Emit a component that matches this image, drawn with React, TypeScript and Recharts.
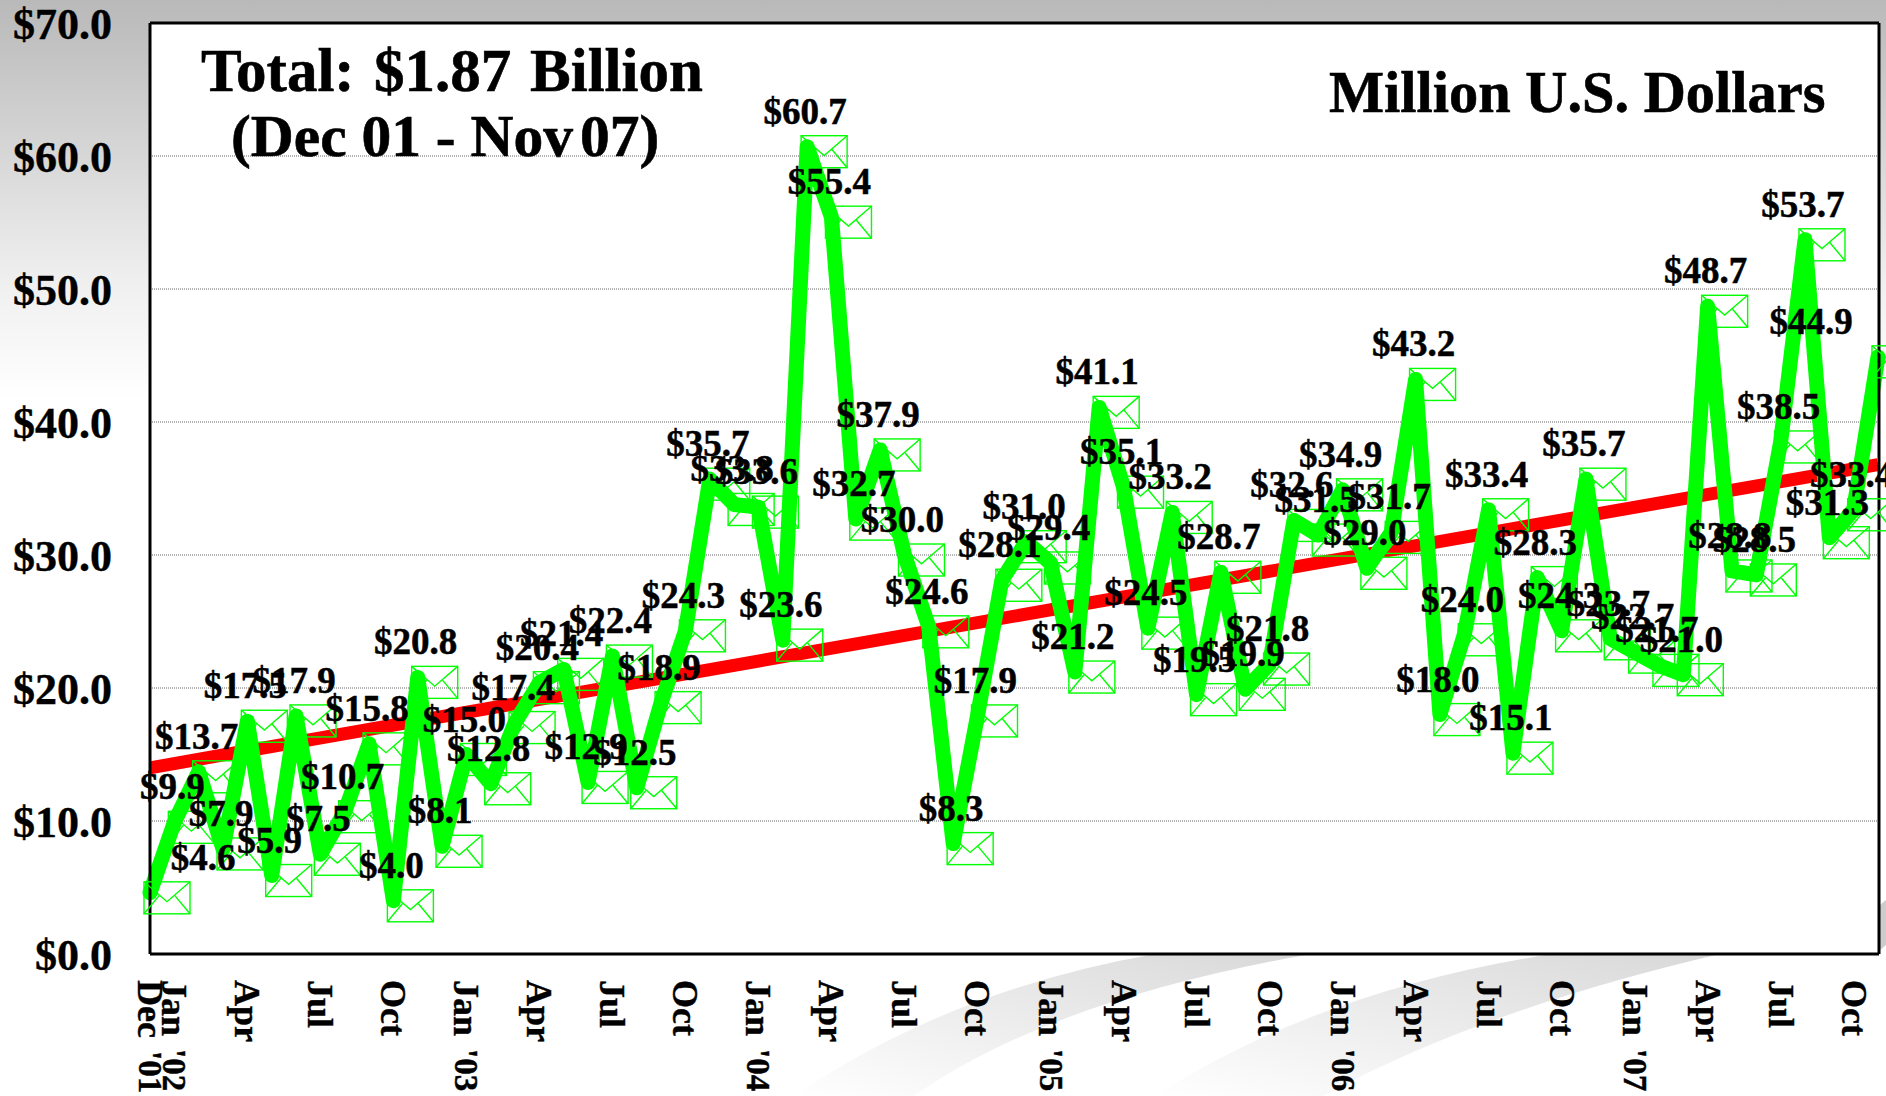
import React from 'react';
import { LineChart, Line, XAxis, YAxis, CartesianGrid, ReferenceLine, LabelList } from 'recharts';

const months = [
  "Dec '01", "Jan '02", "Feb '02", "Mar '02", "Apr '02", "May '02", "Jun '02", "Jul '02", "Aug '02", "Sep '02", "Oct '02", "Nov '02",
  "Dec '02", "Jan '03", "Feb '03", "Mar '03", "Apr '03", "May '03", "Jun '03", "Jul '03", "Aug '03", "Sep '03", "Oct '03", "Nov '03",
  "Dec '03", "Jan '04", "Feb '04", "Mar '04", "Apr '04", "May '04", "Jun '04", "Jul '04", "Aug '04", "Sep '04", "Oct '04", "Nov '04",
  "Dec '04", "Jan '05", "Feb '05", "Mar '05", "Apr '05", "May '05", "Jun '05", "Jul '05", "Aug '05", "Sep '05", "Oct '05", "Nov '05",
  "Dec '05", "Jan '06", "Feb '06", "Mar '06", "Apr '06", "May '06", "Jun '06", "Jul '06", "Aug '06", "Sep '06", "Oct '06", "Nov '06",
  "Dec '06", "Jan '07", "Feb '07", "Mar '07", "Apr '07", "May '07", "Jun '07", "Jul '07", "Aug '07", "Sep '07", "Oct '07", "Nov '07",
];

const monthly = [
  4.6, 9.9, 13.7, 7.9, 17.5, 5.9, 17.9, 7.5, 10.7, 15.8, 4.0, 20.8,
  8.1, 15.0, 12.8, 17.4, 20.4, 21.4, 12.9, 22.4, 12.5, 18.9, 24.3, 35.7,
  33.8, 33.6, 23.6, 60.7, 55.4, 32.7, 37.9, 30.0, 24.6, 8.3, 17.9, 28.1,
  31.0, 29.4, 21.2, 41.1, 35.1, 24.5, 33.2, 19.5, 28.7, 19.9, 21.8, 32.6,
  31.5, 34.9, 29.0, 31.7, 43.2, 18.0, 24.0, 33.4, 15.1, 28.3, 24.3, 35.7,
  23.7, 22.7, 21.7, 21.0, 48.7, 28.8, 28.5, 38.5, 53.7, 31.3, 33.4, 44.9,
];

const trendStart = 14.0;
const trendEnd = 36.8;

const yTicks = [0, 10, 20, 30, 40, 50, 60, 70];

// shown on the axis as month + year, the rest as month only
const yearTicks = ["Dec '01", "Jan '02", "Jan '03", "Jan '04", "Jan '05", "Jan '06", "Jan '07"];
const monthTicks = [
  "Apr '02", "Jul '02", "Oct '02", "Apr '03", "Jul '03", "Oct '03", "Apr '04", "Jul '04", "Oct '04",
  "Apr '05", "Jul '05", "Oct '05", "Apr '06", "Jul '06", "Oct '06", "Apr '07", "Jul '07", "Oct '07",
];

const chartData = months.map((month, i) => ({
  month,
  value: monthly[i],
  trend: i === 0 ? trendStart : i === months.length - 1 ? trendEnd : null,
}));

const SERIF = '"Liberation Serif", "Times New Roman", serif';

const EnvelopeDot = (props: any) => {
  const { cx, cy, index } = props;
  const x = cx - 6;
  const y = cy - 11;
  const w = 46;
  const h = 32;
  return (
    <g key={`env-${index}`} fill="none" stroke="#00FF00" strokeWidth={1.4}>
      <rect x={x} y={y} width={w} height={h} />
      <polyline points={`${x},${y} ${x + w / 2},${y + h * 0.62} ${x + w},${y}`} />
      <line x1={x} y1={y + h} x2={x + w * 0.33} y2={y + h * 0.43} />
      <line x1={x + w} y1={y + h} x2={x + w * 0.67} y2={y + h * 0.43} />
    </g>
  );
};

const ValueLabel = (props: any) => {
  const { x, y, value, index } = props;
  // first and last labels were moved sideways in the original
  let dx = -2;
  if (index === 0) dx = 53;
  if (index === monthly.length - 1) dx = -67;
  return (
    <text
      x={x + dx}
      y={y - 23}
      textAnchor="middle"
      fontFamily={SERIF}
      fontWeight="bold"
      fontSize={37}
      fill="#000"
      stroke="#000"
      strokeWidth={0.5}
    >
      {`$${Number(value).toFixed(1)}`}
    </text>
  );
};

const MonthTick = (props: any) => {
  const { x, y, payload } = props;
  const [mon, yr] = String(payload.value).split(' ');
  const showYear = yearTicks.includes(payload.value);
  return (
    <text
      x={x}
      y={y}
      transform={`rotate(90 ${x} ${y})`}
      textAnchor="start"
      dominantBaseline="central"
      fontFamily={SERIF}
      fontWeight="bold"
      fontSize={36}
      fill="#000"
      stroke="#000"
      strokeWidth={0.4}
    >
      <tspan>{mon}</tspan>
      {showYear && <tspan dx={13} fontSize={33}>{yr}</tspan>}
    </text>
  );
};

const Backdrop = () => (
  <svg width={1886} height={1096} style={{ position: 'absolute', left: 0, top: 0 }}>
    <defs>
      <linearGradient id="topFade" x1="0" y1="0" x2="0" y2="1">
        <stop offset="0%" stopColor="#b9b9b9" />
        <stop offset="70%" stopColor="#efefef" />
        <stop offset="100%" stopColor="#ffffff" />
      </linearGradient>
      <linearGradient id="swoosh" x1="0" y1="1" x2="1" y2="0">
        <stop offset="0%" stopColor="#ffffff" />
        <stop offset="100%" stopColor="#d8d8d8" />
      </linearGradient>
    </defs>
    <rect x={0} y={0} width={1886} height={400} fill="url(#topFade)" />
    <path d="M794 1096 Q950 990 1155 954 L1311 954 Q1050 1000 914 1096 Z" fill="url(#swoosh)" />
    <path d="M1155 1096 Q1320 990 1552 954 L1720 954 Q1480 1010 1323 1096 Z" fill="url(#swoosh)" />
    <path d="M1880 905 L1886 900 L1886 945 L1880 950 Z" fill="#cccccc" />
  </svg>
);

export default function App() {
  return (
    <div style={{ position: 'absolute', left: 0, top: 0, width: 1886, height: 1096, overflow: 'hidden', background: '#fff' }}>
      <Backdrop />
      <div style={{ position: 'absolute', left: 0, top: 0 }}>
        <LineChart width={1886} height={1096} data={chartData} margin={{ top: 23, right: 0, bottom: 0, left: 0 }}>
          <CartesianGrid vertical={false} fill="#fff" stroke="#666" strokeDasharray="1 1" strokeWidth={1} />
          <XAxis
            dataKey="month"
            scale="point"
            padding={{ left: 0, right: 1 }}
            ticks={[...yearTicks, ...monthTicks]}
            interval={0}
            height={142}
            tick={<MonthTick />}
            tickLine={false}
            tickMargin={20}
            stroke="#000"
            strokeWidth={3}
          />
          <YAxis
            domain={[0, 70]}
            ticks={yTicks}
            width={150}
            tickFormatter={(v: number) => `$${v.toFixed(1)}`}
            tick={{ fontFamily: SERIF, fontWeight: 'bold', fontSize: 44, fill: '#000', stroke: '#000', strokeWidth: 0.4 }}
            tickLine={false}
            tickSize={0}
            tickMargin={38}
            interval={0}
            stroke="#000"
            strokeWidth={3}
          />
          <YAxis yAxisId="frame" orientation="right" domain={[0, 70]} width={7} tick={false} tickLine={false} stroke="#000" strokeWidth={3} />
          <ReferenceLine y={70} stroke="#000" strokeWidth={3} />
          <Line dataKey="trend" stroke="#FF0000" strokeWidth={13} dot={false} connectNulls isAnimationActive={false} />
          <Line
            dataKey="value"
            stroke="#00FF00"
            strokeWidth={15}
            strokeLinejoin="round"
            strokeLinecap="round"
            dot={EnvelopeDot}
            isAnimationActive={false}
          >
            <LabelList dataKey="value" content={<ValueLabel />} />
          </Line>
          <g fontFamily={SERIF} fontWeight="bold" fill="#000" stroke="#000" strokeWidth={0.6}>
            <text x={201} y={91} fontSize={61}>
              <tspan>Total:</tspan>
              <tspan x={374}>$1.87</tspan>
              <tspan x={530}>Billion</tspan>
            </text>
            <text x={231} y={156} fontSize={59.5}>
              <tspan>(Dec 01 - Nov</tspan>
              <tspan dx={-8}> 07)</tspan>
            </text>
            <text x={1329} y={112} fontSize={58.4}>Million U.S. Dollars</text>
          </g>
        </LineChart>
      </div>
    </div>
  );
}
